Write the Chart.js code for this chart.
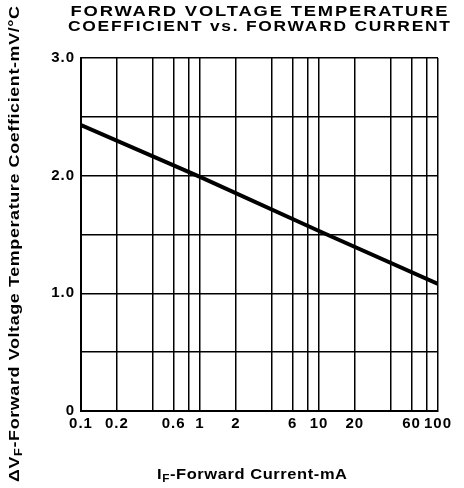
<!DOCTYPE html>
<html>
<head>
<meta charset="utf-8">
<script src="https://cdn.jsdelivr.net/npm/chart.js@4.4.1/dist/chart.umd.min.js"></script>
<style>
  html, body { margin: 0; padding: 0; background: #fff; }
  #wrap { width: 464px; height: 488px; }
</style>
</head>
<body>
<div id="wrap"><canvas id="tcChart" width="464" height="488"></canvas></div>
<script>
// data
const currentMA = [0.1, 1, 10, 100];
const tempCoeff = [2.43, 1.99, 1.53, 1.08];

// grid lines on the log axis, and which of them carry a label
const xGridValues = [0.1, 0.2, 0.4, 0.6, 0.8, 1, 2, 4, 6, 8, 10, 20, 40, 60, 80, 100];
const xTickLabels = { 0.1: '0.1', 0.2: '0.2', 0.6: '0.6', 1: '1', 2: '2', 6: '6', 10: '10', 20: '20', 60: '60', 100: '100' };
const yTickLabels = { 0: '0', 1: '1.0', 2: '2.0', 3: '3.0' };

const titleLines = ['FORWARD VOLTAGE TEMPERATURE', 'COEFFICIENT vs. FORWARD CURRENT'];
const xTitleParts = ['I', 'F', '-Forward Current-mA'];
const yTitleParts = ['\u0394V', 'F', '-Forward Voltage Temperature Coefficient-mV/\u00B0C'];

const FONT = '"Liberation Sans", Arial, sans-serif';

// parts = [main, subscript, rest]; drawn centred on (x, y), stretched to width
function wideText(ctx, parts, x, y, width, size, spacing) {
    const fMain = 'bold ' + size + 'px ' + FONT;
    const fSub = 'bold ' + Math.round(size * 0.7) + 'px ' + FONT;
    ctx.save();
    ctx.letterSpacing = spacing + 'px';
    ctx.textAlign = 'left';
    ctx.textBaseline = 'middle';
    const widths = parts.map((p, i) => {
        ctx.font = i === 1 ? fSub : fMain;
        return ctx.measureText(p).width;
    });
    const total = widths.reduce((a, b) => a + b, 0) - spacing;
    ctx.translate(x, y);
    ctx.scale(width / total, 1);
    let cx = -total / 2;
    parts.forEach((p, i) => {
        ctx.font = i === 1 ? fSub : fMain;
        ctx.fillText(p, cx, i === 1 ? size * 0.3 : 0);
        cx += widths[i];
    });
    ctx.restore();
}

const textPlugin = {
    id: 'textPlugin',
    beforeDraw(chart) {
        chart.ctx.letterSpacing = '1px';
    },
    afterDraw(chart) {
        const ctx = chart.ctx;
        ctx.save();
        ctx.fillStyle = '#000';
        wideText(ctx, [titleLines[0], '', ''], 259, 12, 377, 15, 1.5);
        wideText(ctx, [titleLines[1], '', ''], 259, 27, 382, 15, 1.5);

        wideText(ctx, xTitleParts, 252, 475, 190, 14, 0.5);

        ctx.translate(15, 244);
        ctx.rotate(-Math.PI / 2);
        wideText(ctx, yTitleParts, 0, 0, 476, 14, 0.5);
        ctx.restore();
    }
};

let ctx = document.getElementById('tcChart').getContext('2d');
let chart = new Chart(ctx, {
    type: 'line',
    data: {
        datasets: [{
            data: currentMA.map((c, i) => ({ x: c, y: tempCoeff[i] })),
            borderColor: '#000',
            borderWidth: 4,
            pointRadius: 0,
            tension: 0,
            fill: false
        }]
    },
    options: {
        responsive: false,
        animation: false,
        layout: { padding: { left: 0, top: 58, right: 26, bottom: 0 } },
        plugins: {
            legend: { display: false },
            tooltip: { enabled: false }
        },
        scales: {
            x: {
                type: 'logarithmic',
                min: 0.1,
                max: 100,
                afterBuildTicks: (scale) => {
                    scale.ticks = xGridValues.map(v => ({ value: v }));
                },
                afterFit: (scale) => { scale.height = 77; },
                ticks: {
                    autoSkip: false,
                    maxRotation: 0,
                    padding: 4,
                    color: '#000',
                    font: { family: FONT, size: 15, weight: 'bold' },
                    callback: (v) => xTickLabels[v] || ''
                },
                grid: { color: '#000', lineWidth: 1.5, drawTicks: false },
                border: { color: '#000', width: 2 }
            },
            y: {
                min: 0,
                max: 3,
                afterFit: (scale) => { scale.width = 81; },
                ticks: {
                    stepSize: 0.5,
                    padding: 6,
                    color: '#000',
                    font: { family: FONT, size: 15, weight: 'bold' },
                    callback: (v) => yTickLabels[v] || ''
                },
                grid: { color: '#000', lineWidth: 1.5, drawTicks: false },
                border: { color: '#000', width: 2 }
            }
        }
    },
    plugins: [textPlugin]
});
</script>
</body>
</html>
